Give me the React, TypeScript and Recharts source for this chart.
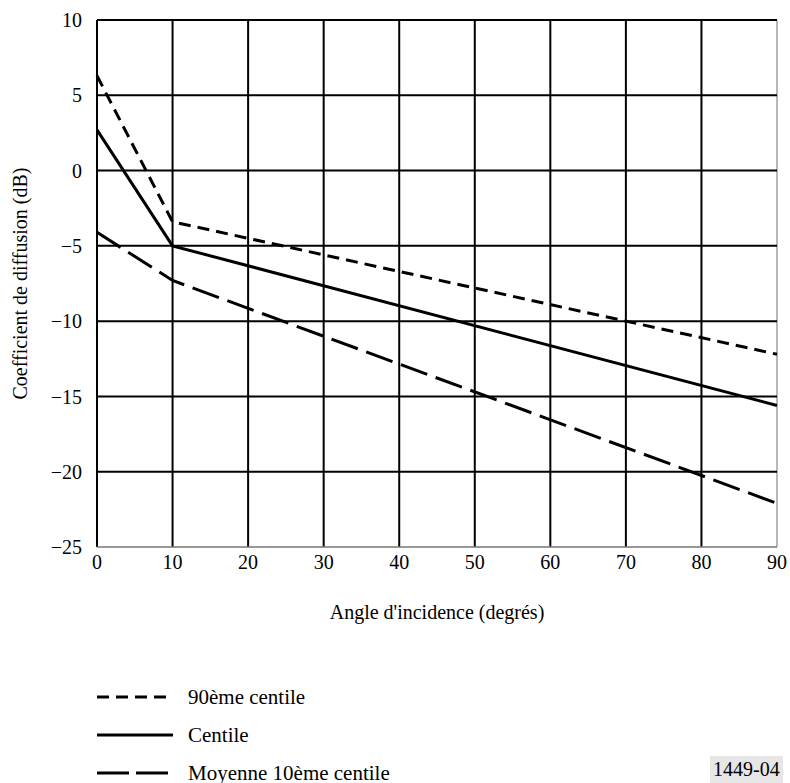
import { LineChart, Line, XAxis, YAxis, ReferenceLine } from 'recharts'

// angle d'incidence (degrés) aux points de cassure
const angles = [0, 10, 90]
const centile90 = [6.3, -3.4, -12.2]
const centile = [2.7, -5.0, -15.6]
const moyenne10 = [-4.1, -7.3, -22.1]

const xTicks = [0, 10, 20, 30, 40, 50, 60, 70, 80, 90]
const yTicks = [10, 5, 0, -5, -10, -15, -20, -25]

const series = [
  { key: 'c90', name: '90ème centile', dash: '12 7', legendDash: '12 7' },
  { key: 'c', name: 'Centile', dash: undefined, legendDash: undefined },
  { key: 'm10', name: 'Moyenne 10ème centile', dash: '28 9', legendDash: '32 7' },
]

const data = angles.map((a, i) => ({
  angle: a,
  c90: centile90[i],
  c: centile[i],
  m10: moyenne10[i],
}))

const FONT = "'Liberation Serif', 'DejaVu Serif', serif"
const FS = 20

const fmt = (v: number) => (v < 0 ? `\u2212${Math.abs(v)}` : String(v))

export default function App() {
  return (
    <div
      style={{
        position: 'absolute',
        left: 0,
        top: 0,
        width: 790,
        height: 783,
        background: '#fff',
        fontFamily: FONT,
        color: '#000',
      }}
    >
      <LineChart
        width={790}
        height={783}
        data={data}
        margin={{ top: 20, right: 13, left: 37, bottom: 206 }}
        style={{ fontFamily: FONT }}
      >
        <XAxis
          dataKey="angle"
          type="number"
          domain={[0, 90]}
          ticks={xTicks}
          height={30}
          tickSize={0}
          tickMargin={8}
          axisLine={{ stroke: '#777', strokeWidth: 1.5 }}
          tick={{ fill: '#000', fontSize: FS }}
          label={{
            value: "Angle d'incidence (degrés)",
            position: 'insideBottom',
            offset: -42,
            style: { fill: '#000', fontSize: FS },
          }}
        />
        <YAxis
          type="number"
          domain={[-25, 10]}
          ticks={yTicks}
          width={60}
          tickSize={0}
          tickMargin={15}
          axisLine={false}
          tickFormatter={fmt}
          tick={{ fill: '#000', fontSize: FS }}
          label={{
            value: 'Coefficient de diffusion (dB)',
            angle: -90,
            position: 'insideLeft',
            offset: -17,
            style: { fill: '#000', fontSize: FS, textAnchor: 'middle' },
          }}
        />
        {xTicks.slice(0, -1).map((t) => (
          <ReferenceLine key={'x' + t} x={t} stroke="#000" strokeWidth={2} />
        ))}
        <ReferenceLine x={90} stroke="#888" strokeWidth={1.2} />
        {yTicks.slice(0, -1).map((t) => (
          <ReferenceLine key={'y' + t} y={t} stroke="#000" strokeWidth={2} />
        ))}
        {series.map((s) => (
          <Line
            key={s.key}
            dataKey={s.key}
            name={s.name}
            type="linear"
            stroke="#000"
            strokeWidth={3}
            strokeDasharray={s.dash}
            dot={false}
            activeDot={false}
            isAnimationActive={false}
          />
        ))}
      </LineChart>

      {/* légende */}
      <div style={{ position: 'absolute', left: 97, top: 678 }}>
        {series.map((s) => (
          <div key={s.key} style={{ display: 'flex', alignItems: 'center', height: 38 }}>
            <svg width={76} height={6} style={{ marginRight: 15 }}>
              <line x1={0} y1={3} x2={76} y2={3} stroke="#000" strokeWidth={3} strokeDasharray={s.legendDash} />
            </svg>
            <span style={{ fontSize: FS + 1 }}>{s.name}</span>
          </div>
        ))}
      </div>

      <div
        style={{
          position: 'absolute',
          left: 710,
          top: 756,
          padding: '2px 3px',
          background: '#e6e6e6',
          fontSize: FS,
          lineHeight: '23px',
        }}
      >
        1449-04
      </div>
    </div>
  )
}
